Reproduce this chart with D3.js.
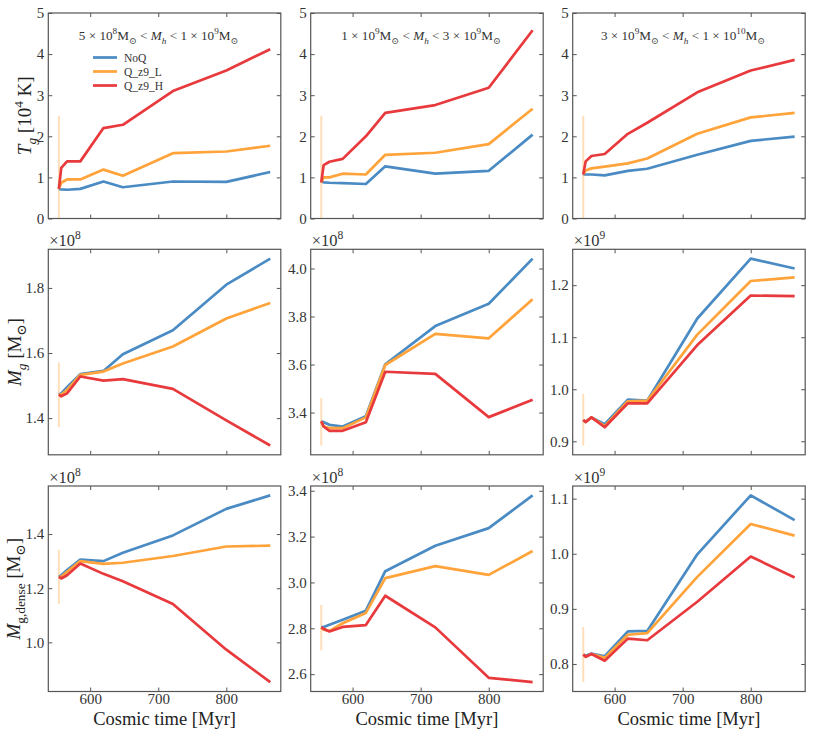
<!DOCTYPE html>
<html>
<head>
<meta charset="utf-8">
<script src="https://cdn.jsdelivr.net/npm/d3@7"></script>
<style>
  body { margin: 0; background: #fff; }
  svg, svg text { font-family: "Liberation Serif", "Times New Roman", "DejaVu Serif", serif; }
</style>
</head>
<body>
<svg id="chart" width="830" height="738"></svg>
<script>
// ---------------- DATA ----------------
const time = [554, 557.5, 566, 585.5, 619.5, 648, 721.5, 800, 864.5];
const models = ["NoQ", "Q_z9_L", "Q_z9_H"];
const binLabels = [
  [["5 × 10"], ["8", "sup"], ["M"], ["⊙", "sub"], [" < "], ["M", "i"], ["h", "subi"], [" < 1 × 10"], ["9", "sup"], ["M"], ["⊙", "sub"]],
  [["1 × 10"], ["9", "sup"], ["M"], ["⊙", "sub"], [" < "], ["M", "i"], ["h", "subi"], [" < 3 × 10"], ["9", "sup"], ["M"], ["⊙", "sub"]],
  [["3 × 10"], ["9", "sup"], ["M"], ["⊙", "sub"], [" < "], ["M", "i"], ["h", "subi"], [" < 1 × 10"], ["10", "sup"], ["M"], ["⊙", "sub"]]
];

// Gas temperature [1e4 K], one row per halo-mass bin
const tgNoQ = [
  [0.72, 0.71, 0.70, 0.72, 0.90, 0.76, 0.90, 0.89, 1.13],
  [0.90, 0.88, 0.87, 0.86, 0.84, 1.27, 1.09, 1.16, 2.04],
  [1.07, 1.07, 1.07, 1.05, 1.16, 1.21, 1.55, 1.89, 1.99]
];
const tgQL = [
  [0.72, 0.87, 0.95, 0.95, 1.19, 1.04, 1.59, 1.63, 1.77],
  [0.88, 1.00, 1.00, 1.09, 1.07, 1.55, 1.60, 1.81, 2.67],
  [1.07, 1.17, 1.22, 1.26, 1.34, 1.46, 2.06, 2.46, 2.57]
];
const tgQH = [
  [0.72, 1.23, 1.39, 1.39, 2.20, 2.28, 3.10, 3.60, 4.12],
  [0.88, 1.30, 1.38, 1.45, 2.00, 2.57, 2.76, 3.18, 4.58],
  [1.07, 1.39, 1.52, 1.57, 2.06, 2.33, 3.07, 3.60, 3.86]
];

// Gas mass (bins 1,2 in 1e8, bin 3 in 1e9 Msun)
const mgNoQ = [
  [1.472, 1.476, 1.495, 1.535, 1.545, 1.596, 1.670, 1.810, 1.890],
  [3.363, 3.360, 3.349, 3.342, 3.385, 3.601, 3.760, 3.853, 4.041],
  [0.941, 0.937, 0.946, 0.933, 0.980, 0.978, 1.136, 1.251, 1.232]
];
const mgQL = [
  [1.472, 1.472, 1.487, 1.533, 1.543, 1.568, 1.620, 1.706, 1.754],
  [3.363, 3.342, 3.335, 3.335, 3.380, 3.598, 3.728, 3.709, 3.872],
  [0.941, 0.937, 0.946, 0.929, 0.977, 0.978, 1.105, 1.208, 1.215]
];
const mgQH = [
  [1.472, 1.467, 1.476, 1.528, 1.515, 1.520, 1.490, 1.393, 1.316],
  [3.363, 3.342, 3.324, 3.324, 3.360, 3.570, 3.561, 3.381, 3.453],
  [0.941, 0.937, 0.946, 0.927, 0.973, 0.973, 1.085, 1.180, 1.179]
];

// Dense gas mass
const mdNoQ = [
  [1.242, 1.248, 1.267, 1.306, 1.300, 1.331, 1.395, 1.493, 1.543],
  [2.804, 2.806, 2.815, 2.837, 2.877, 3.049, 3.160, 3.237, 3.380],
  [0.817, 0.815, 0.819, 0.814, 0.859, 0.860, 0.999, 1.106, 1.061]
];
const mdQL = [
  [1.242, 1.242, 1.261, 1.300, 1.290, 1.294, 1.319, 1.354, 1.357],
  [2.804, 2.794, 2.789, 2.822, 2.867, 3.019, 3.071, 3.033, 3.137],
  [0.817, 0.813, 0.818, 0.811, 0.853, 0.856, 0.958, 1.054, 1.033]
];
const mdQH = [
  [1.242, 1.236, 1.248, 1.291, 1.253, 1.226, 1.142, 0.973, 0.853],
  [2.804, 2.798, 2.786, 2.806, 2.814, 2.942, 2.804, 2.584, 2.565],
  [0.817, 0.813, 0.818, 0.806, 0.846, 0.843, 0.913, 0.995, 0.957]
];

// Error bar at first snapshot [low, high]
const tgErr = [[0, 2.5], [0, 2.5], [0, 2.5]];
const mgErr = [[1.372, 1.571], [3.263, 3.460], [0.892, 0.991]];
const mdErr = [[1.142, 1.341], [2.703, 2.902], [0.767, 0.867]];

// Offset exponents and tick labels
const mgExp = ["8", "8", "9"];
const mdExp = ["8", "8", "9"];
const tgTicks = [0, 1, 2, 3, 4, 5];
const mgTicks = [[1.4, 1.6, 1.8], [3.4, 3.6, 3.8, 4.0], [0.9, 1.0, 1.1, 1.2]];
const mdTicks = [[1.0, 1.2, 1.4], [2.6, 2.8, 3.0, 3.2, 3.4], [0.8, 0.9, 1.0, 1.1]];
const xTicks = [600, 700, 800];

// ---------------- STYLE / LAYOUT ----------------
const FONT = "'Liberation Serif', 'Times New Roman', 'DejaVu Serif', serif";
const colors = ["#4a8bc4", "#ffa33a", "#e8393d"];
const colLeft = [48.3, 310.7, 572.7];
const panelW = 232.5;
const rowTop = [13, 249.3, 486];
const panelH = 205.5;
const frameColor = "#555";

const svg = d3.select("#chart");

function rich(textSel, parts, size) {
  textSel.attr("font-family", FONT);
  let shift = 0;
  parts.forEach(([t, s]) => {
    s = s || "";
    let target = 0, fs = size;
    if (s.startsWith("sub")) { target = size * 0.28; fs = size * 0.7; }
    if (s.startsWith("sup")) { target = -size * 0.42; fs = size * 0.7; }
    const ts = textSel.append("tspan").text(t).attr("font-size", fs);
    if (target - shift !== 0) ts.attr("dy", target - shift);
    if (s === "i" || s === "subi") ts.attr("font-style", "italic");
    shift = target;
  });
}

const rows = [
  { series: [tgNoQ, tgQL, tgQH], err: tgErr, ticks: () => tgTicks, fixed: [0, 5], fmt: d3.format("d"), exp: null },
  { series: [mgNoQ, mgQL, mgQH], err: mgErr, ticks: c => mgTicks[c], fixed: null, fmt: d3.format(".1f"), exp: mgExp },
  { series: [mdNoQ, mdQL, mdQH], err: mdErr, ticks: c => mdTicks[c], fixed: null, fmt: d3.format(".1f"), exp: mdExp }
];

const x0 = d3.min(time), x1 = d3.max(time), xp = (x1 - x0) * 0.05;

rows.forEach((row, r) => {
  for (let c = 0; c < 3; c++) {
    const L = colLeft[c], T = rowTop[r];
    const x = d3.scaleLinear().domain([x0 - xp, x1 + xp]).range([L, L + panelW]);
    let dom;
    if (row.fixed) dom = row.fixed;
    else {
      const vals = row.series.flatMap(s => s[c]).concat(row.err[c]);
      const lo = d3.min(vals), hi = d3.max(vals), p = (hi - lo) * 0.05;
      dom = [lo - p, hi + p];
    }
    const y = d3.scaleLinear().domain(dom).range([T + panelH, T]);
    const g = svg.append("g");

    // axes with inward ticks
    const tv = row.ticks(c);
    const ax = (gen, tr, labels, fmt) => {
      const a = g.append("g").attr("transform", tr)
        .call(gen.tickValues(labels.vals).tickSize(-4).tickPadding(labels.pad).tickFormat(labels.show ? fmt : ""));
      a.attr("font-family", FONT);
      a.select(".domain").remove();
      a.selectAll(".tick line").attr("stroke", frameColor).attr("stroke-width", 1);
      a.selectAll(".tick text").attr("fill", "#333").attr("font-size", 15).attr("font-family", FONT);
      return a;
    };
    ax(d3.axisLeft(y), `translate(${L},0)`, { vals: tv, pad: 4, show: true }, row.fmt);
    ax(d3.axisRight(y), `translate(${L + panelW},0)`, { vals: tv, pad: 4, show: false }, row.fmt);
    ax(d3.axisTop(x), `translate(0,${T})`, { vals: xTicks, pad: 4, show: false }, d3.format("d"));
    ax(d3.axisBottom(x), `translate(0,${T + panelH})`, { vals: xTicks, pad: 2, show: r === 2 }, d3.format("d"));

    // error bar
    g.append("line")
      .attr("x1", x(time[0])).attr("x2", x(time[0]))
      .attr("y1", y(row.err[c][0])).attr("y2", y(row.err[c][1]))
      .attr("stroke", colors[1]).attr("stroke-opacity", 0.35).attr("stroke-width", 2);

    // series lines
    const line = d3.line().x((d, i) => x(time[i])).y(d => y(d));
    row.series.forEach((s, m) => {
      g.append("path").datum(s[c]).attr("d", line)
        .attr("fill", "none").attr("stroke", colors[m]).attr("stroke-width", 2.7)
        .attr("stroke-linejoin", "round").attr("stroke-linecap", "butt");
    });

    // frame
    g.append("rect").attr("x", L).attr("y", T).attr("width", panelW).attr("height", panelH)
      .attr("fill", "none").attr("stroke", frameColor).attr("stroke-width", 1.2);

    // offset text
    if (row.exp) {
      const t = g.append("text").attr("x", L + 1).attr("y", T - 3).attr("fill", "#333");
      rich(t, [["×10"], [row.exp[c], "sup"]], 16.5);
    }
    // bin title
    if (r === 0) {
      const t = g.append("text").attr("x", L + panelW / 2 - 6).attr("y", T + 27)
        .attr("text-anchor", "middle").attr("fill", "#333");
      rich(t, binLabels[c], 13.2);
    }
    // x label
    if (r === 2) {
      g.append("text").attr("x", L + panelW / 2).attr("y", 725)
        .attr("text-anchor", "middle").attr("font-size", 18.5).attr("fill", "#222")
        .attr("font-family", FONT)
        .text("Cosmic time [Myr]");
    }
    // legend
    if (r === 0 && c === 0) {
      models.forEach((name, m) => {
        const ly = 57.5 + m * 14;
        g.append("line").attr("x1", 93).attr("x2", 117).attr("y1", ly).attr("y2", ly)
          .attr("stroke", colors[m]).attr("stroke-width", 2.7);
        g.append("text").attr("x", 124).attr("y", ly + 4).attr("font-size", 11.5).attr("fill", "#333")
          .attr("font-family", FONT).text(name);
      });
    }
  }
});

// y labels
const ylabs = [
  { x: 31, parts: [["T", "i"], ["g", "subi"], [" [10"], ["4", "sup"], [" K]"]] },
  { x: 21, parts: [["M", "i"], ["g", "subi"], [" [M"], ["⊙", "sub"], ["]"]] },
  { x: 20, parts: [["M", "i"], ["g,dense", "sub"], [" [M"], ["⊙", "sub"], ["]"]] }
];
ylabs.forEach((yl, r) => {
  const cy = rowTop[r] + panelH / 2;
  const t = svg.append("text").attr("transform", `translate(${yl.x},${cy}) rotate(-90)`)
    .attr("text-anchor", "middle").attr("fill", "#222");
  rich(t, yl.parts, 19);
});
</script>
</body>
</html>
